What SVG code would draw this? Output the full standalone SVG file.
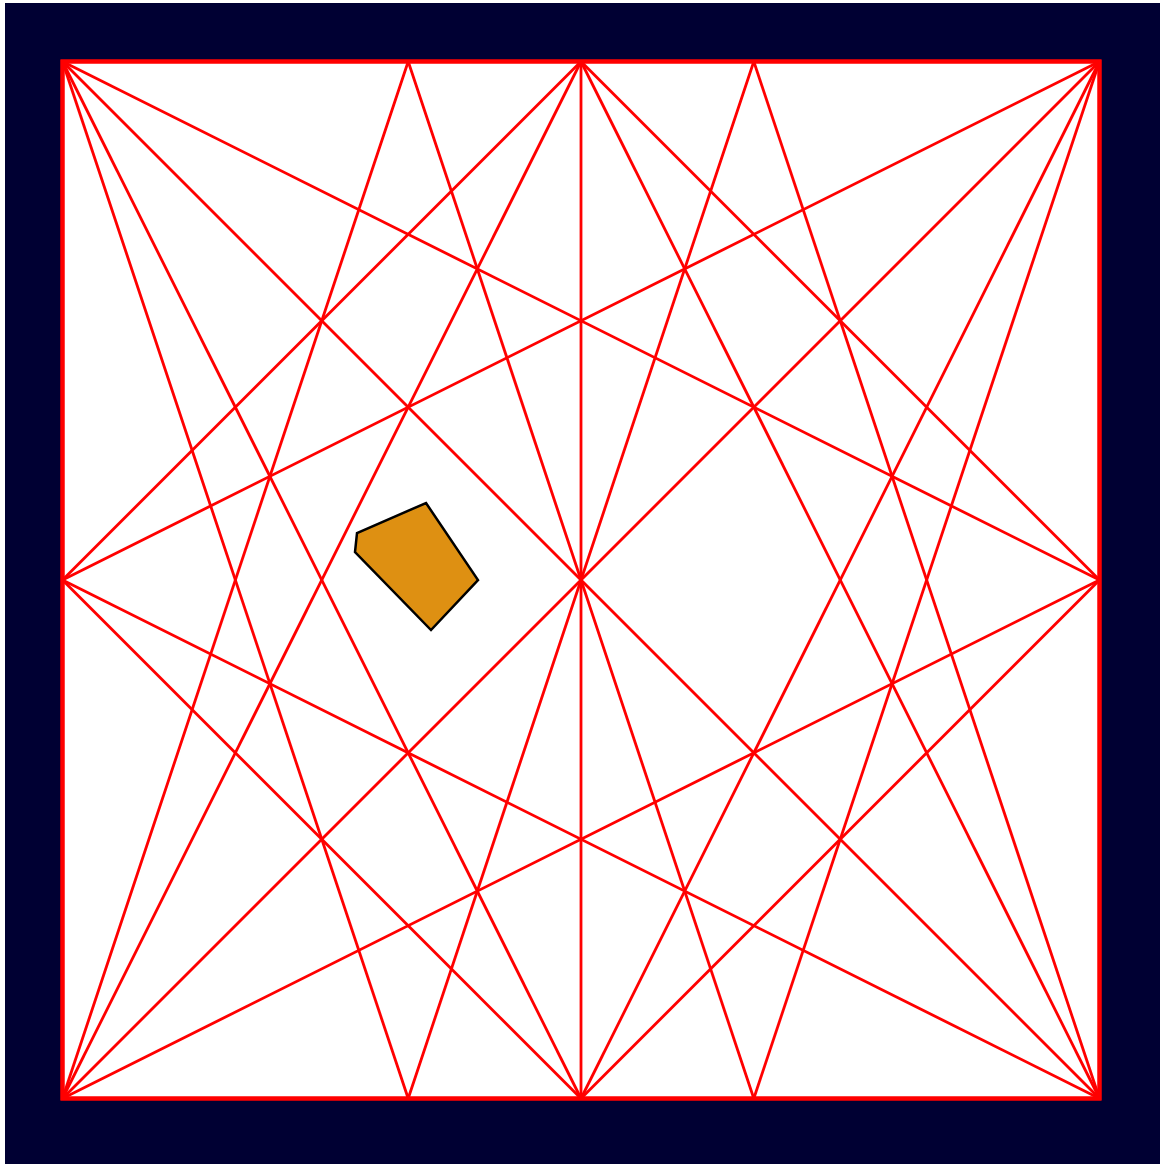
<svg xmlns="http://www.w3.org/2000/svg" width="1160" height="1164" viewBox="0 0 1160 1164">
<style>
.ln{stroke:#ff0000;stroke-width:2.8;fill:none}
.frame{fill:#ffffff;stroke:#ff0000;stroke-width:4}
</style>
<rect x="0" y="0" width="1160" height="1164" fill="#ffffff"/>
<rect id="background" x="5" y="3" width="1155" height="1161" fill="#000033"/>
<rect id="square" class="frame" x="62.5" y="61.5" width="1037" height="1037"/>
<g id="connectors">
<line class="ln" x1="62.5" y1="61.5" x2="1099.5" y2="580"/>
<line class="ln" x1="62.5" y1="1098.5" x2="1099.5" y2="580"/>
<line class="ln" x1="1099.5" y1="61.5" x2="62.5" y2="580"/>
<line class="ln" x1="1099.5" y1="1098.5" x2="62.5" y2="580"/>
<line class="ln" x1="62.5" y1="61.5" x2="1099.5" y2="1098.5"/>
<line class="ln" x1="1099.5" y1="61.5" x2="62.5" y2="1098.5"/>
<line class="ln" x1="62.5" y1="61.5" x2="581" y2="1098.5"/>
<line class="ln" x1="1099.5" y1="61.5" x2="581" y2="1098.5"/>
<line class="ln" x1="62.5" y1="1098.5" x2="581" y2="61.5"/>
<line class="ln" x1="1099.5" y1="1098.5" x2="581" y2="61.5"/>
<line class="ln" x1="62.5" y1="61.5" x2="408.2" y2="1098.5"/>
<line class="ln" x1="1099.5" y1="61.5" x2="753.8" y2="1098.5"/>
<line class="ln" x1="62.5" y1="1098.5" x2="408.2" y2="61.5"/>
<line class="ln" x1="1099.5" y1="1098.5" x2="753.8" y2="61.5"/>
<line class="ln" x1="408.2" y1="61.5" x2="753.8" y2="1098.5"/>
<line class="ln" x1="753.8" y1="61.5" x2="408.2" y2="1098.5"/>
<line class="ln" x1="581" y1="61.5" x2="581" y2="1098.5"/>
<line class="ln" x1="581" y1="61.5" x2="62.5" y2="580"/>
<line class="ln" x1="581" y1="61.5" x2="1099.5" y2="580"/>
<line class="ln" x1="581" y1="1098.5" x2="62.5" y2="580"/>
<line class="ln" x1="581" y1="1098.5" x2="1099.5" y2="580"/>
</g>
<rect x="62.5" y="61.5" width="1037" height="1037" fill="none" stroke="#ff0000" stroke-width="4"/>
<g id="shape">
<polygon points="426,503 478,580 431,630 355,552 357,533" fill="#de9012" stroke="#000000" stroke-width="2.5" stroke-linejoin="miter"/>
</g>
</svg>
